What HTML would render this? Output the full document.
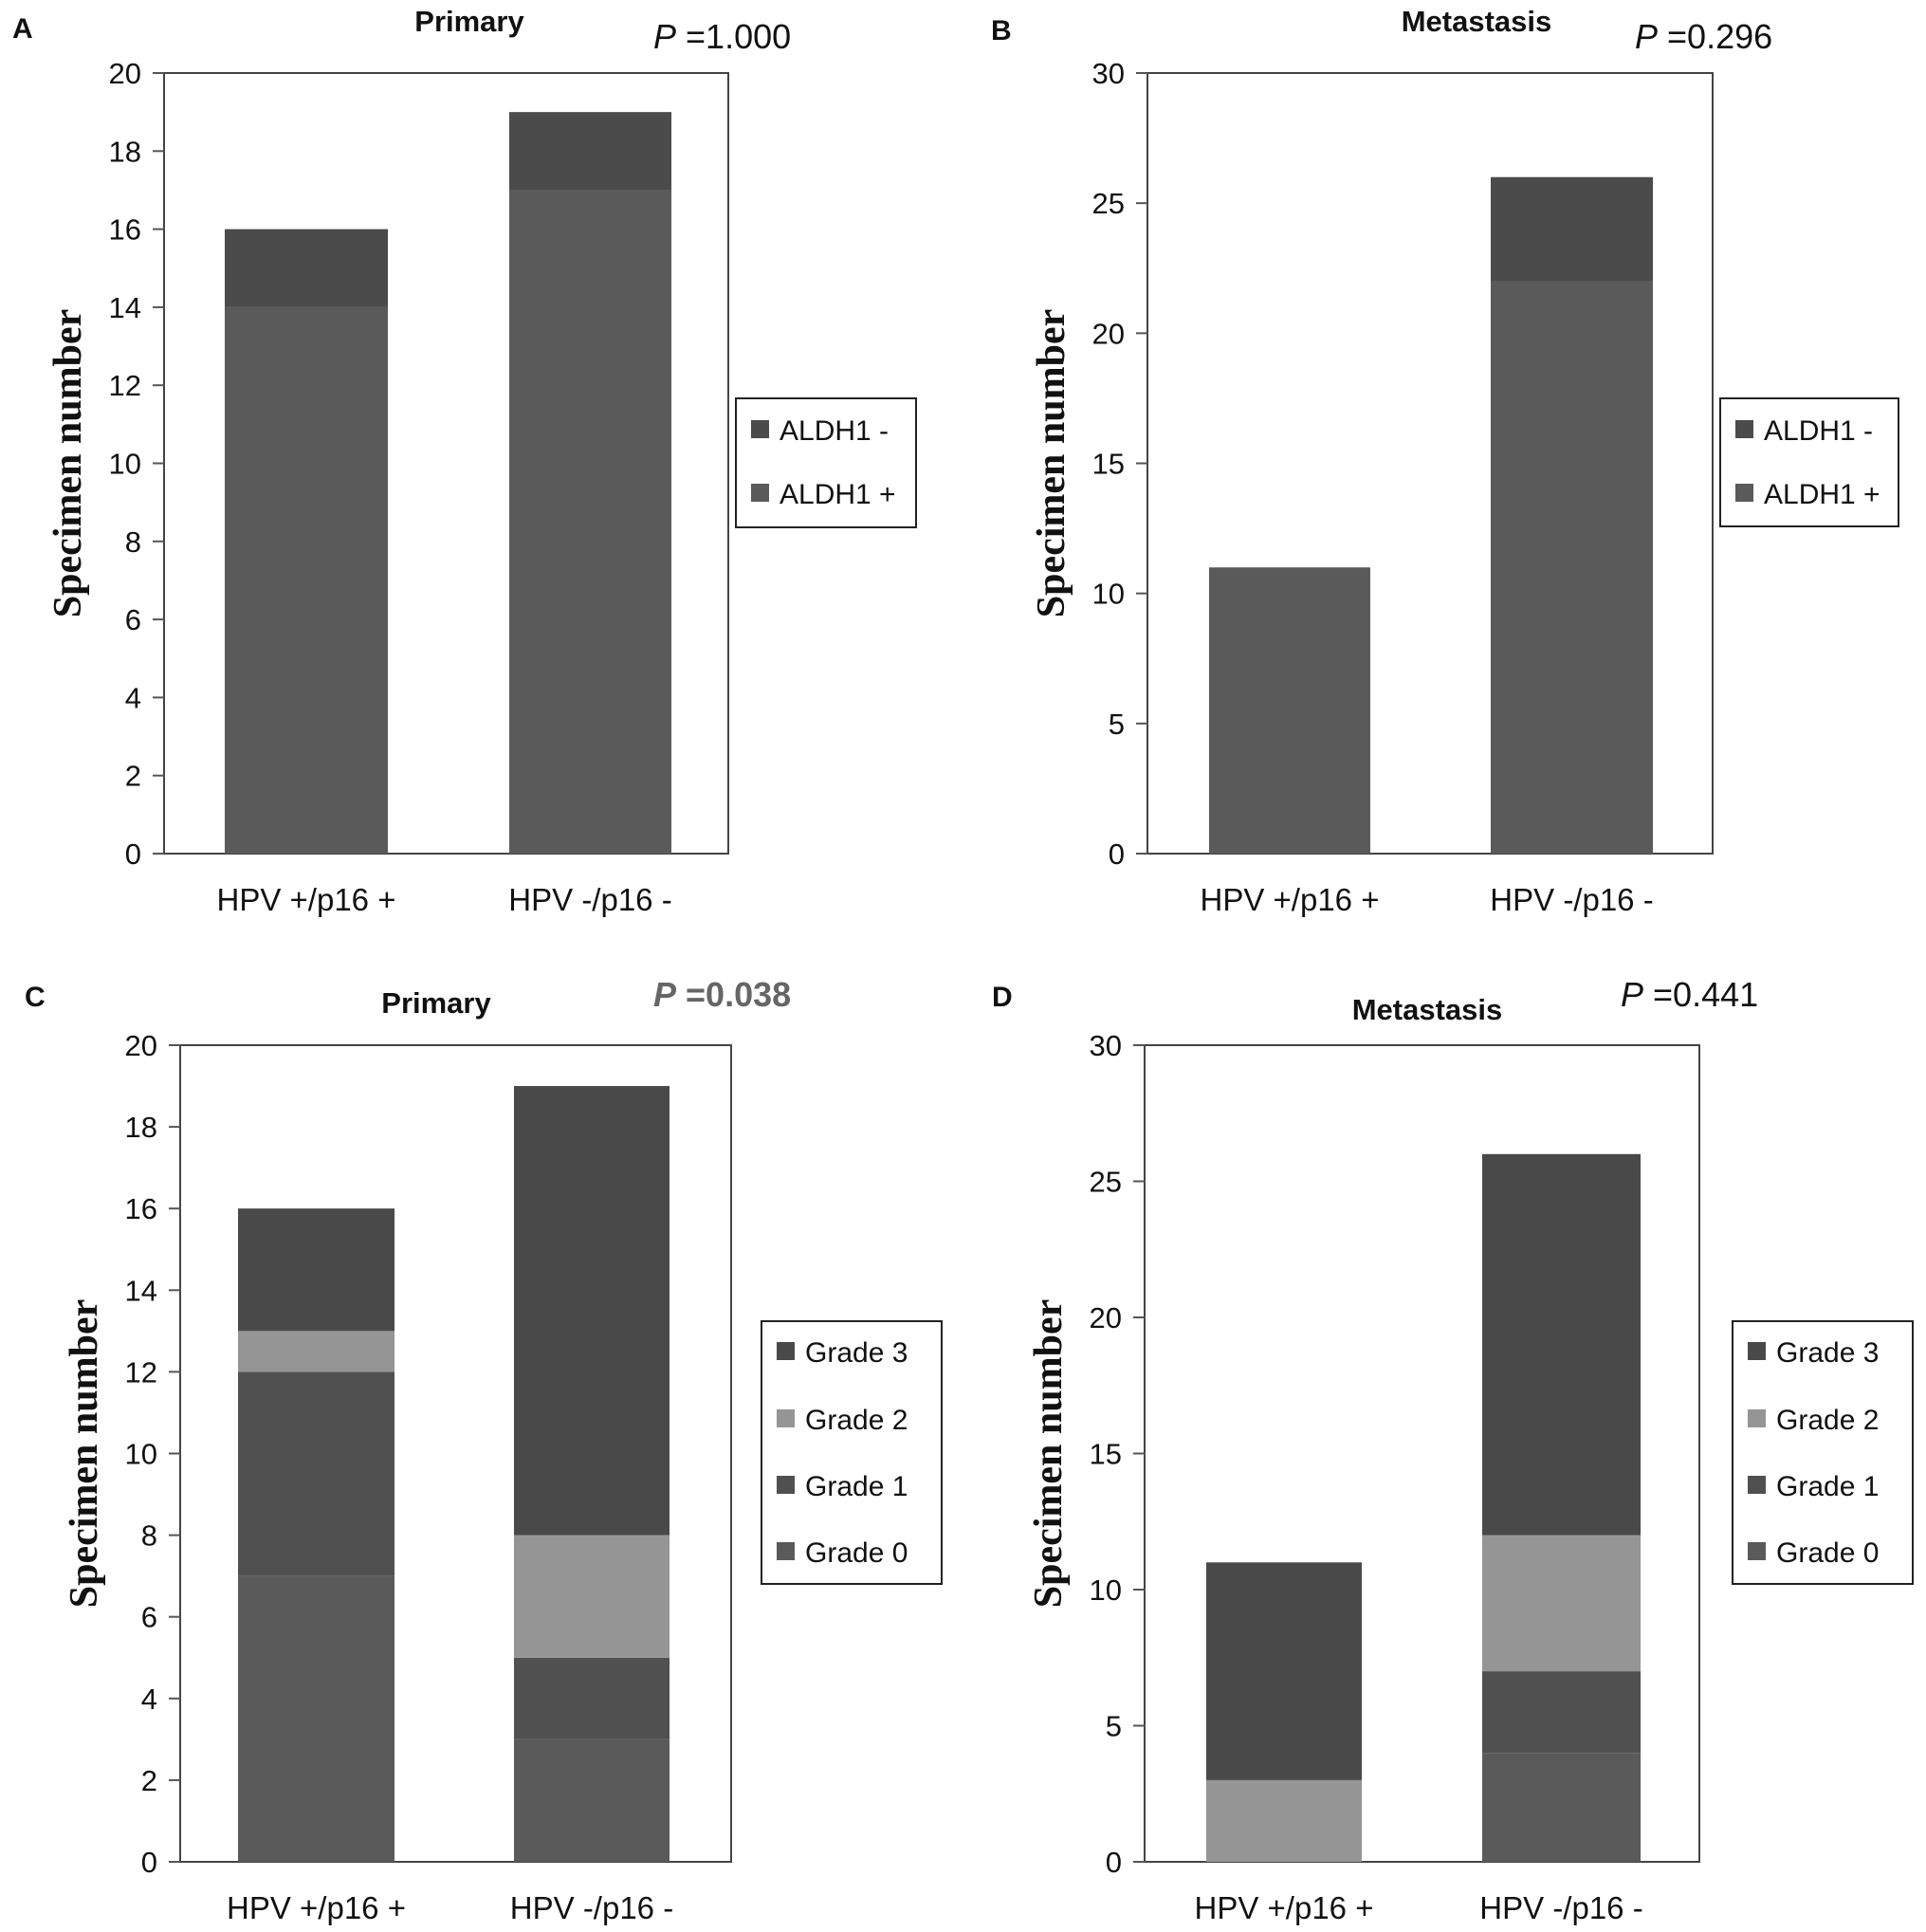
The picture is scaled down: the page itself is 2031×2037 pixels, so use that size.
<!DOCTYPE html>
<html><head><meta charset="utf-8"><style>
html,body{margin:0;padding:0;background:#fff}
svg{display:block}
</style></head><body>
<svg id="fig" width="2031" height="2037" viewBox="0 0 2031 2037" xmlns="http://www.w3.org/2000/svg" font-family="'Liberation Sans', sans-serif"></svg>
<script>
const categories = ["HPV +/p16 +", "HPV -/p16 -"];
const aldhSeries = ["ALDH1 +", "ALDH1 -"];
const gradeSeries = ["Grade 0", "Grade 1", "Grade 2", "Grade 3"];
const aPlus = [14, 17];
const aMinus = [2, 2];
const bPlus = [11, 22];
const bMinus = [0, 4];
const cG0 = [7, 3];
const cG1 = [5, 2];
const cG2 = [1, 3];
const cG3 = [3, 11];
const dG0 = [0, 4];
const dG1 = [0, 3];
const dG2 = [3, 5];
const dG3 = [8, 14];
const ticks20 = [0, 2, 4, 6, 8, 10, 12, 14, 16, 18, 20];
const ticks30 = [0, 5, 10, 15, 20, 25, 30];

const NS = "http://www.w3.org/2000/svg";
const svg = document.getElementById("fig");
function mk(tag, attrs, parent, text) {
  const e = document.createElementNS(NS, tag);
  for (const k in attrs) e.setAttribute(k, attrs[k]);
  if (text !== undefined) e.textContent = text;
  (parent || svg).appendChild(e);
  return e;
}

const panels = [
  {id:"a", letter:"A", lx:13, ly:40, title:"Primary", tx:495, ty:33, p:"1.000", px:689, py:51, pBold:false,
   L:173, R:768, T:77, B:900, max:20, ticks:ticks20, bars:[[237,409],[537,708]],
   series:[aPlus, aMinus], names:aldhSeries, colors:["#5a5a5a","#4b4b4b"],
   leg:{x:776, y:420, w:190, h:136, ys:[520,453]}},
  {id:"b", letter:"B", lx:1045, ly:42, title:"Metastasis", tx:1557, ty:33, p:"0.296", px:1724, py:51, pBold:false,
   L:1210, R:1806, T:77, B:900, max:30, ticks:ticks30, bars:[[1275,1445],[1572,1743]],
   series:[bPlus, bMinus], names:aldhSeries, colors:["#5a5a5a","#4b4b4b"],
   leg:{x:1814, y:420, w:188, h:135, ys:[520,453]}},
  {id:"c", letter:"C", lx:26, ly:1061, title:"Primary", tx:460, ty:1068, p:"0.038", px:689, py:1061, pBold:true,
   L:190, R:771, T:1102, B:1963, max:20, ticks:ticks20, bars:[[251,416],[542,706]],
   series:[cG0,cG1,cG2,cG3], names:gradeSeries, colors:["#5a5a5a","#505050","#959595","#494949"],
   leg:{x:803, y:1393, w:190, h:277, ys:[1636,1566,1496,1425]}},
  {id:"d", letter:"D", lx:1046, ly:1061, title:"Metastasis", tx:1505, ty:1075, p:"0.441", px:1709, py:1061, pBold:false,
   L:1207, R:1792, T:1102, B:1963, max:30, ticks:ticks30, bars:[[1272,1436],[1563,1730]],
   series:[dG0,dG1,dG2,dG3], names:gradeSeries, colors:["#5a5a5a","#505050","#959595","#494949"],
   leg:{x:1827, y:1393, w:190, h:277, ys:[1636,1566,1496,1425]}}
];

panels.forEach(P => {
  const g = mk("g", {});
  
  
  const yScale = v => P.B - (v / P.max) * (P.B - P.T);
  let t = mk("text", {x:P.lx, y:P.ly, "font-size":30, "font-weight":"bold", fill:"#111"}, g, P.letter);
  
  
  t = mk("text", {x:P.tx, y:P.ty, "font-size":31, "font-weight":"bold", fill:"#111", "text-anchor":"middle"}, g, P.title);
  
  
  t = mk("text", {x:P.px, y:P.py, "font-size":36, fill:P.pBold ? "#666" : "#111", "font-weight":P.pBold ? "bold" : "normal"}, g);
  
  
  mk("tspan", {"font-style":"italic"}, t, "P");
  mk("tspan", {}, t, " =" + P.p);
  let r = mk("rect", {x:P.L, y:P.T, width:P.R-P.L, height:P.B-P.T, fill:"none", stroke:"#444", "stroke-width":2}, g);
  
  
  P.ticks.forEach(v => {
    const y = yScale(v);
    const l = mk("line", {x1:P.L-12, x2:P.L, y1:y, y2:y, stroke:"#555", "stroke-width":2}, g);
    
    
    const tt = mk("text", {x:P.L-24, y:y+11, "font-size":31, fill:"#111", "text-anchor":"end"}, g, String(v));
    
    
  });
  const midY = (P.T + P.B) / 2;
  const ax = P.L - 88;
  t = mk("text", {x:ax, y:midY, "font-size":42, "font-weight":"bold", fill:"#111", "text-anchor":"middle",
    "font-family":"'Liberation Serif', serif", transform:`rotate(-90 ${ax} ${midY})`}, g, "Specimen number");
  
  
  categories.forEach((c, i) => {
    const [x0, x1] = P.bars[i];
    let cum = 0;
    P.series.forEach((s, si) => {
      const v = s[i];
      if (v > 0) {
        const y1 = yScale(cum), y2 = yScale(cum + v);
        const b = mk("rect", {x:x0, y:y2, width:x1-x0, height:y1-y2, fill:P.colors[si]}, g);
        
        
      }
      cum += v;
    });
    const cl = mk("text", {x:(x0+x1)/2, y:P.B+60, "font-size":33, fill:"#111", "text-anchor":"middle"}, g, c);
    
    
  });
  const lg = mk("g", {}, g);
  
  
  mk("rect", {x:P.leg.x, y:P.leg.y, width:P.leg.w, height:P.leg.h, fill:"#fff", stroke:"#222", "stroke-width":2}, lg);
  P.names.forEach((n, si) => {
    const y = P.leg.ys[si];
    const e = mk("g", {}, lg);
    
    
    mk("rect", {x:P.leg.x+16, y:y-10, width:19, height:19, fill:P.colors[si]}, e);
    mk("text", {x:P.leg.x+46, y:y+11, "font-size":30, fill:"#111"}, e, n);
  });
});
</script>
</body></html>
